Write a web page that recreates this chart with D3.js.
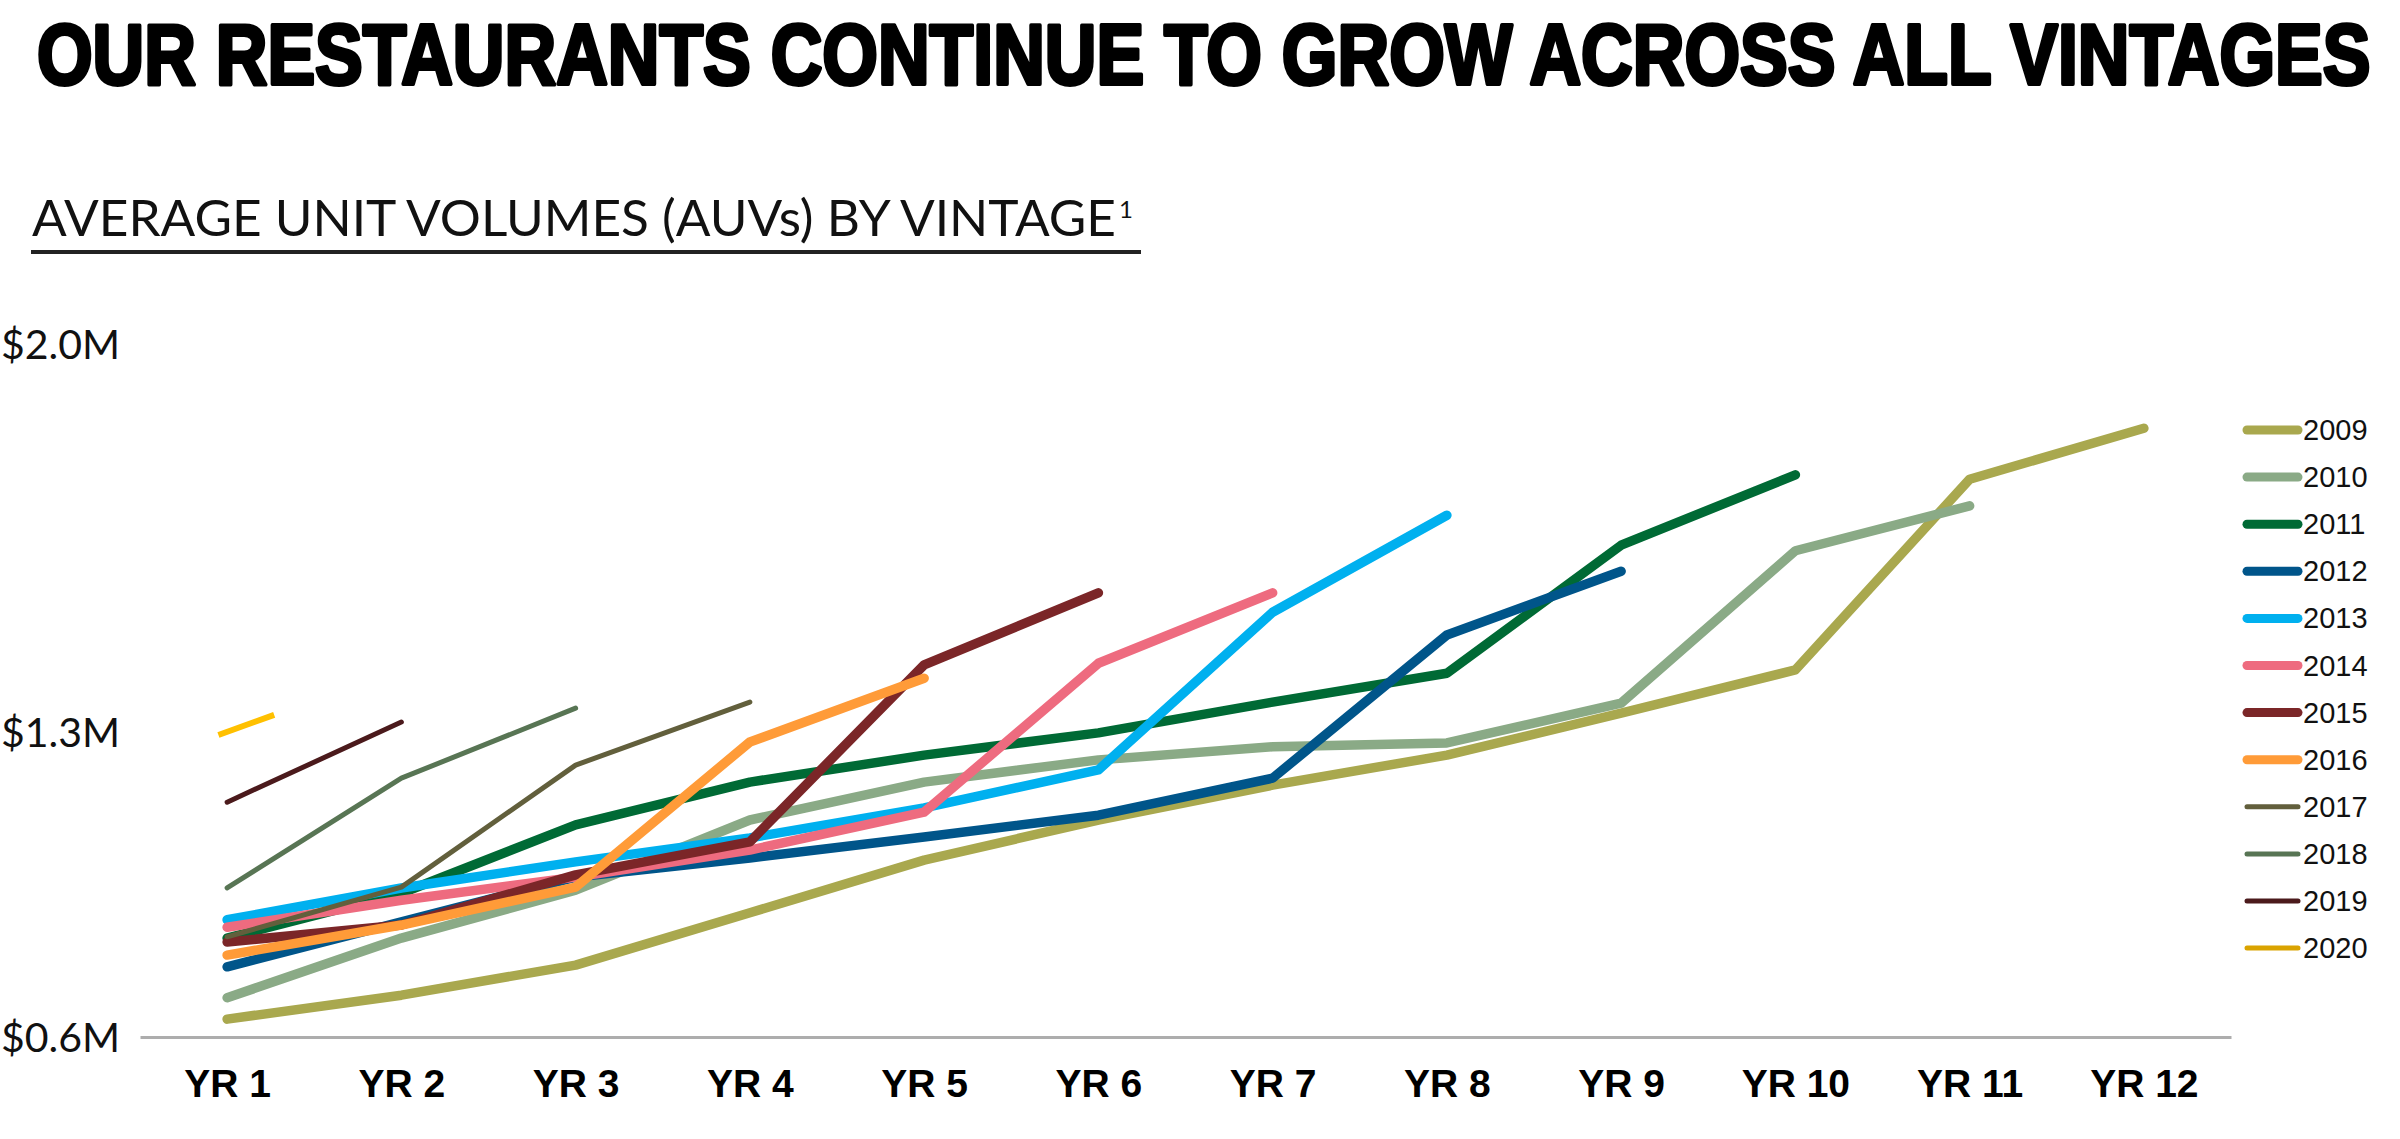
<!DOCTYPE html>
<html>
<head>
<meta charset="utf-8">
<script src="https://cdn.jsdelivr.net/npm/d3@7"></script>
<style>
  body { margin: 0; background: #fff; }
  svg { display: block; }
</style>
</head>
<body>
<script>
// data ($M AUV by year of operation)
var vintages = ["2009", "2010", "2011", "2012", "2013", "2014", "2015", "2016", "2017", "2018", "2019", "2020"];
var yearTicks = [1, 2, 3, 4, 5, 6, 7, 8, 9, 10, 11, 12];
var yTicks = [0.6, 1.3, 2.0];

var auv2009 = [0.641, 0.696, 0.765, 0.885, 1.006, 1.098, 1.178, 1.247, 1.334, 1.412, 1.756, 1.848];
var auv2010 = [0.690, 0.827, 0.937, 1.098, 1.185, 1.236, 1.266, 1.275, 1.352, 1.627, 1.708];
var auv2011 = [0.827, 0.930, 1.087, 1.185, 1.247, 1.298, 1.354, 1.406, 1.637, 1.764];
var auv2012 = [0.761, 0.864, 0.967, 1.011, 1.059, 1.109, 1.194, 1.475, 1.590];
var auv2013 = [0.869, 0.942, 1.002, 1.057, 1.126, 1.213, 1.516, 1.691];
var auv2014 = [0.852, 0.914, 0.967, 1.029, 1.116, 1.424, 1.551];
var auv2015 = [0.818, 0.857, 0.972, 1.048, 1.421, 1.551];
var auv2016 = [0.788, 0.857, 0.944, 1.277, 1.397];
var auv2017 = [0.830, 0.944, 1.224, 1.354];
var auv2018 = [0.942, 1.194, 1.343];
var auv2019 = [1.139, 1.318];
// 2020 only shows as a short dash around YR 1
var auv2020 = [1.293, 1.331];
var yrs2020 = [0.95, 1.27];

var colors = ["#A9A84E", "#8AAA86", "#006A35", "#00558A", "#00B0EF", "#EE6B7F",
              "#7B2628", "#FF9B38", "#625F3C", "#587554", "#4B1A1C", "#FFC000"];
var legendColors = colors.slice(0, 11).concat(["#DAA300"]);

var allValues = [auv2009, auv2010, auv2011, auv2012, auv2013, auv2014,
                 auv2015, auv2016, auv2017, auv2018, auv2019, auv2020];

var width = 2400, height = 1139;

var svg = d3.select("body").append("svg")
    .attr("width", width)
    .attr("height", height);

// title, stretched to the reference width with a transform
var title = svg.append("text")
    .attr("x", 0).attr("y", 0)
    .style("font-family", "'Liberation Sans Narrow', 'Liberation Sans', sans-serif")
    .style("font-weight", "bold")
    .style("font-size", "86px")
    .style("stroke", "#000")
    .style("stroke-width", 4)
    .style("stroke-linejoin", "round")
    .text("OUR RESTAURANTS CONTINUE TO GROW ACROSS ALL VINTAGES");
var titleW = title.node().getComputedTextLength();
title.attr("transform", "translate(37,84) scale(" + (2334 / titleW) + ",1)");

svg.append("text")
    .attr("x", 32).attr("y", 236)
    .attr("textLength", 1084)
    .attr("lengthAdjust", "spacingAndGlyphs")
    .style("font-family", "Lato, sans-serif")
    .style("font-size", "51px")
    .style("fill", "#111")
    .text("AVERAGE UNIT VOLUMES (AUVs) BY VINTAGE");
svg.append("text")
    .attr("x", 1119).attr("y", 218)
    .style("font-family", "Lato, sans-serif")
    .style("font-size", "24px")
    .style("fill", "#111")
    .text("1");
svg.append("rect")
    .attr("x", 31).attr("y", 250)
    .attr("width", 1110).attr("height", 4)
    .attr("fill", "#222");

// scales (the value axis in the source is not evenly spaced, so use a polylinear scale)
var x = d3.scaleLinear().domain([0.5, 12.5]).range([140, 2231]);
var y = d3.scaleLinear().domain([0.6, 1.3, 2.0]).range([1037, 732, 344]);

// y axis
var yAxis = svg.append("g")
    .attr("transform", "translate(142,0)")
    .call(d3.axisLeft(y).tickValues(yTicks).tickSize(0).tickPadding(22)
        .tickFormat(function(d) { return "$" + d3.format(".1f")(d) + "M"; }));
yAxis.select(".domain").remove();
yAxis.selectAll("text")
    .attr("dy", "0.36em")
    .style("font-family", "Lato, sans-serif")
    .style("font-size", "41px")
    .style("fill", "#111");

// x axis
var xAxis = svg.append("g")
    .attr("transform", "translate(0,1037)")
    .call(d3.axisBottom(x).tickValues(yearTicks).tickSize(0)
        .tickFormat(function(d) { return "YR " + d; }));
xAxis.select(".domain")
    .attr("stroke", "#ADADAD")
    .attr("stroke-width", 3);
xAxis.selectAll("text")
    .attr("y", 60).attr("dy", 0)
    .style("font-family", "'Liberation Sans', Arial, sans-serif")
    .style("font-weight", "bold")
    .style("font-size", "39px")
    .style("fill", "#000");

// lines
var line = d3.line()
    .x(function(d) { return x(d.yr); })
    .y(function(d) { return y(d.v); });

var series = vintages.map(function(name, i) {
    var vals = allValues[i];
    return {
        name: name,
        color: colors[i],
        thick: i < 8,
        pts: vals.map(function(v, j) {
            return { yr: name === "2020" ? yrs2020[j] : yearTicks[j], v: v };
        })
    };
});

svg.append("g").selectAll("path")
    .data(series)
    .enter().append("path")
    .attr("d", function(d) { return line(d.pts); })
    .attr("fill", "none")
    .attr("stroke", function(d) { return d.color; })
    .attr("stroke-width", function(d) { return d.thick ? 9.5 : (d.name === "2020" ? 6 : 5); })
    .attr("stroke-linecap", function(d) { return d.name === "2020" ? "butt" : "round"; })
    .attr("stroke-linejoin", "round");

// legend
var legend = svg.append("g").selectAll("g")
    .data(series)
    .enter().append("g")
    .attr("transform", function(d, i) { return "translate(0," + (430 + i * 47.1) + ")"; });

legend.append("line")
    .attr("x1", 2247).attr("x2", 2298)
    .attr("stroke", function(d, i) { return legendColors[i]; })
    .attr("stroke-width", function(d) { return d.thick ? 9 : 5; })
    .attr("stroke-linecap", "round");

legend.append("text")
    .attr("x", 2303).attr("y", 10)
    .style("font-family", "'Liberation Sans', Arial, sans-serif")
    .style("font-size", "29px")
    .style("fill", "#111")
    .text(function(d) { return d.name; });
</script>
</body>
</html>
